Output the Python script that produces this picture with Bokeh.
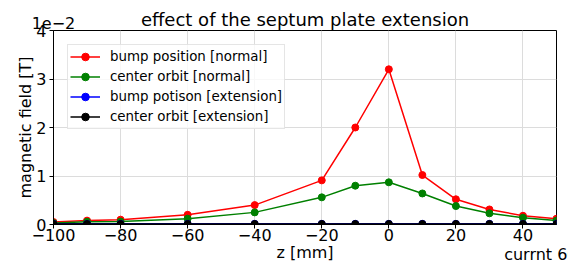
from bokeh.plotting import figure
from bokeh.models import Range1d, FixedTicker, CustomJSTickFormatter, LinearAxis
from bokeh.embed import file_html
from bokeh.resources import INLINE

# ---- data (magnetic field in T) ----
z_mm = [-100, -90, -80, -60, -40, -20, -10, 0, 10, 20, 30, 40, 50]
bump_normal = [0.0005, 0.0008, 0.0010, 0.0020, 0.0040, 0.0091, 0.0200, 0.0320, 0.0102, 0.0052, 0.0031, 0.0018, 0.0012]
center_normal = [0.0003, 0.00055, 0.0006, 0.0012, 0.0025, 0.0056, 0.0080, 0.0087, 0.0064, 0.0038, 0.0023, 0.0014, 0.0008]
bump_extension = [0.00013, 0.00013, 0.00013, 0.00013, 0.00013, 0.00013, 0.00013, 0.00013, 0.00013, 0.00013, 0.00013, 0.00013, 0.00013]
center_extension = [0.00011, 0.00011, 0.00011, 0.00011, 0.00011, 0.00011, 0.00011, 0.00011, 0.00011, 0.00011, 0.00011, 0.00011, 0.00011]

series_labels = ["bump position [normal]", "center orbit [normal]",
                 "bump potison [extension]", "center orbit [extension]"]
series_colors = ["#ff0000", "#008000", "#0000ff", "#000000"]

x_ticks = [-100, -80, -60, -40, -20, 0, 20, 40]
y_ticks = [0.0, 0.01, 0.02, 0.03, 0.04]

title_text = "effect of the septum plate extension"
x_label = "z [mm]"
y_label = "magnetic field [T]"
note_text = "currnt 6000A"
scale_text = "1e\u22122"

FONT = "DejaVu Sans"

p = figure(width=568, height=266, output_backend="svg", toolbar_location=None,
           title_location=None,
           x_range=Range1d(-100, 50), y_range=Range1d(0, 0.04),
           min_border=0, min_border_left=53, min_border_right=12,
           min_border_top=0, min_border_bottom=0)
p.background_fill_color = "white"
p.border_fill_color = "white"
p.outline_line_color = "black"
p.outline_line_width = 1


def style_label(ax, size="16px"):
    ax.axis_label_text_font = FONT
    ax.axis_label_text_font_size = size
    ax.axis_label_text_font_style = "normal"
    ax.axis_label_text_color = "black"


# main axes
p.xaxis.ticker = FixedTicker(ticks=x_ticks)
p.yaxis.ticker = FixedTicker(ticks=y_ticks)
p.xaxis.formatter = CustomJSTickFormatter(code="return tick < 0 ? '\\u2212' + Math.abs(tick) : String(tick);")
p.yaxis.formatter = CustomJSTickFormatter(code="return (tick*100).toFixed(0);")
for ax in (p.xaxis, p.yaxis):
    ax.major_label_text_font = FONT
    ax.major_label_text_font_size = "16px"
    ax.major_label_text_color = "black"
    ax.axis_line_color = "black"
    ax.major_tick_line_color = "black"
    ax.major_tick_out = 4
    ax.major_tick_in = 0
    ax.minor_tick_line_color = None
    style_label(ax)
p.xaxis.major_label_standoff = 0
p.xaxis.axis_label = x_label
p.xaxis.axis_label_standoff = -1
p.yaxis.major_label_standoff = 3
p.yaxis.axis_label = y_label
p.yaxis.axis_label_standoff = -2


def text_axis(label, standoff, size="16px", align="center", text_align="center"):
    ax = LinearAxis(ticker=FixedTicker(ticks=[], minor_ticks=[]), axis_label=label,
                    axis_label_standoff=standoff)
    ax.axis_line_color = None
    ax.major_tick_line_color = None
    ax.minor_tick_line_color = None
    ax.major_tick_out = 0
    ax.major_tick_in = 0
    ax.minor_tick_out = 0
    ax.minor_tick_in = 0
    ax.major_label_standoff = 0
    ax.major_label_text_font_size = "1px"
    style_label(ax, size)
    ax.axis_label_align = align
    ax.axis_label_text_align = text_align
    return ax


def spacer_axis(out):
    # invisible white tick with an empty label: only reserves vertical space
    ax = LinearAxis(ticker=FixedTicker(ticks=[-25], minor_ticks=[]),
                    formatter=CustomJSTickFormatter(code="return '';"))
    ax.axis_line_color = None
    ax.major_tick_line_color = "white"
    ax.minor_tick_line_color = None
    ax.major_tick_out = out
    ax.major_tick_in = 0
    ax.major_label_standoff = 0
    ax.major_label_text_font_size = "1px"
    return ax


# texts around the frame carried by label-only axes
p.add_layout(text_axis(scale_text, 2, align="start", text_align="left"), "above")
p.add_layout(text_axis(title_text, -16, size="18px"), "above")
p.add_layout(spacer_axis(5), "above")
p.add_layout(text_axis(note_text, -20, align="end", text_align="right"), "below")

p.grid.grid_line_color = "#dcdcdc"
p.grid.grid_line_width = 1

# series
all_series = [bump_normal, center_normal, bump_extension, center_extension]
for vals, lab, col in zip(all_series, series_labels, series_colors):
    p.line(z_mm, vals, line_color=col, line_width=1.5, legend_label=lab)
    p.scatter(z_mm, vals, marker="circle", size=7, fill_color=col, line_color=col, legend_label=lab)

leg = p.legend[0]
leg.location = "top_left"
leg.margin = 14
leg.padding = 2
leg.spacing = 1
leg.glyph_height = 19
leg.label_height = 19
leg.glyph_width = 30
leg.label_standoff = 10
leg.label_text_font = FONT
leg.label_text_font_size = "13.4px"
leg.label_text_color = "black"
leg.border_line_color = "#cccccc"
leg.border_line_width = 1
leg.background_fill_color = "white"
leg.background_fill_alpha = 0.8

open("out.html", "w").write(file_html(p, INLINE))
